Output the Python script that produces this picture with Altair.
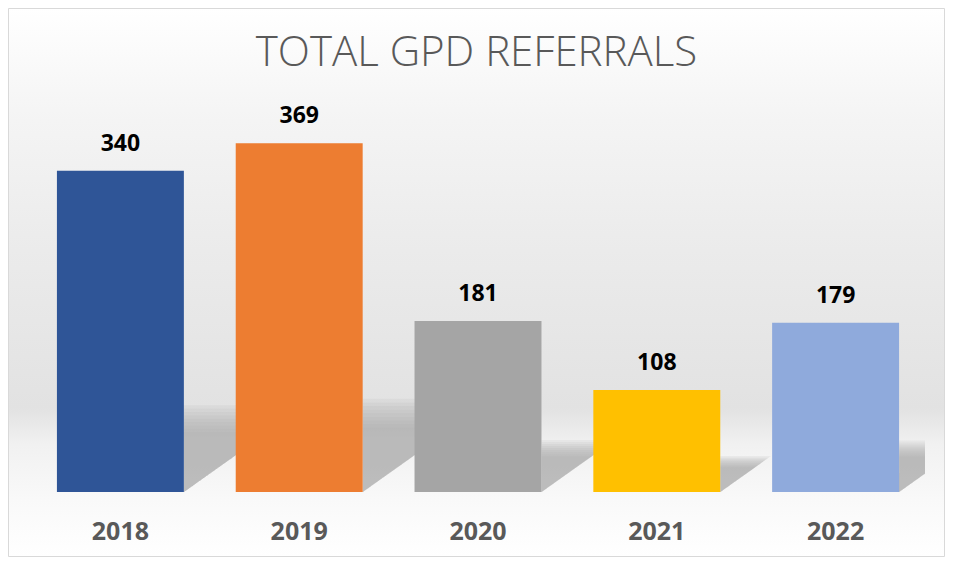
import altair as alt
import pandas as pd

# ---- data ----
years = ["2018", "2019", "2020", "2021", "2022"]
referrals = [340, 369, 181, 108, 179]
bar_colors = ["#2F5597", "#ED7D31", "#A5A5A5", "#FFC000", "#8FAADC"]
title_text = "TOTAL GPD REFERRALS"

# ---- layout (canvas = whole chart) ----
W, H = 937, 549
X0, X1 = 23, 917          # band range for the bars
Y0, Y1 = 484, 106         # baseline / top of the value scale
YMAX = 400
PAD_IN, PAD_OUT = 0.29, 0.145
STEP = (X1 - X0) / len(years)
PX_PER_UNIT = (Y0 - Y1) / YMAX
SHADOW_SCALES = [1.16, 1.115, 1.07, 1.025, 0.98, 0.935, 0.89, 0.845, 0.80]

df = pd.DataFrame({"year": years, "value": referrals, "color": bar_colors})

# decorative soft perspective shadows behind the bars, derived from the values
rows = []
for i, (yr, v) in enumerate(zip(years, referrals)):
    right = i + PAD_OUT + (1 - PAD_IN)
    base_rise = 10.6 + 0.2 * v * PX_PER_UNIT
    for k, s in enumerate(SHADOW_SCALES):
        rise_px = base_rise * s
        top = rise_px / PX_PER_UNIT
        dx = (rise_px / 0.71) / STEP
        end = right + dx
        key = f"{yr}-{k}"
        rows.append(dict(key=key, sx=right, ytop=top, ybot=0.0))
        if end > len(years):
            f = (len(years) - right) / dx
            rows.append(dict(key=key, sx=float(len(years)), ytop=top, ybot=f * top))
        else:
            rows.append(dict(key=key, sx=end, ytop=top, ybot=top))
shadow_df = pd.DataFrame(rows)

yscale = alt.Scale(domain=[0, YMAX], range=[Y0, Y1], nice=False, zero=True)

grad = alt.LinearGradient(
    gradient="linear", x1=0, y1=0, x2=0, y2=1,
    stops=[
        alt.GradientStop(offset=0.0, color="#ffffff"),
        alt.GradientStop(offset=0.204, color="#f4f4f4"),
        alt.GradientStop(offset=0.44, color="#ebebeb"),
        alt.GradientStop(offset=0.729, color="#e2e2e2"),
        alt.GradientStop(offset=0.796, color="#f1f1f1"),
        alt.GradientStop(offset=0.896, color="#f9f9f9"),
        alt.GradientStop(offset=1.0, color="#ffffff"),
    ],
)

bg = alt.Chart(pd.DataFrame({"k": [0]})).mark_rect(
    fill=grad, stroke="#d9d9d9", strokeWidth=1
).encode(
    x=alt.value(0.5), x2=alt.value(W - 0.5),
    y=alt.value(0.5), y2=alt.value(H - 0.5),
)

shadow = alt.Chart(shadow_df).mark_area(
    color="#a8a8a8", opacity=0.12, interpolate="linear"
).encode(
    x=alt.X("sx:Q", scale=alt.Scale(domain=[0, len(years)], range=[X0, X1], nice=False, zero=False), axis=None),
    y=alt.Y("ytop:Q", scale=yscale, axis=None),
    y2="ybot:Q",
    detail="key:N",
)

xband = alt.X(
    "year:N", sort=years, title=None,
    scale=alt.Scale(range=[X0, X1], paddingInner=PAD_IN, paddingOuter=PAD_OUT),
    axis=alt.Axis(
        orient="bottom", offset=-(H - Y0), domain=False, ticks=False, tickSize=0, grid=False,
        labelPadding=47, labelBaseline="alphabetic", labelAngle=0,
        labelFont="Open Sans", labelFontSize=25, labelFontWeight="bold",
        labelColor="#595959", zindex=1,
    ),
)

bars = alt.Chart(df).mark_bar().encode(
    x=xband,
    y=alt.Y("value:Q", scale=yscale, axis=None),
    color=alt.Color("color:N", scale=None),
)

labels = alt.Chart(df).mark_text(
    dy=-20, baseline="alphabetic", font="Open Sans", fontSize=23,
    fontWeight="bold", color="#000000",
).encode(
    x=alt.X("year:N", sort=years,
            scale=alt.Scale(range=[X0, X1], paddingInner=PAD_IN, paddingOuter=PAD_OUT),
            axis=None),
    y=alt.Y("value:Q", scale=yscale, axis=None),
    text="value:Q",
)

chart = alt.layer(bg, shadow, bars, labels).resolve_scale(
    x="independent"
).properties(
    width=W, height=H,
    padding=0,
    autosize="none",
    background="#ffffff",
    title=alt.TitleParams(
        title_text, font="Open Sans", fontSize=42, fontWeight=300,
        color="#595959", anchor="middle", baseline="alphabetic", offset=-100,
    ),
).configure_view(stroke=None)

chart.save("out.html", embed_options={"renderer": "svg", "actions": False})
